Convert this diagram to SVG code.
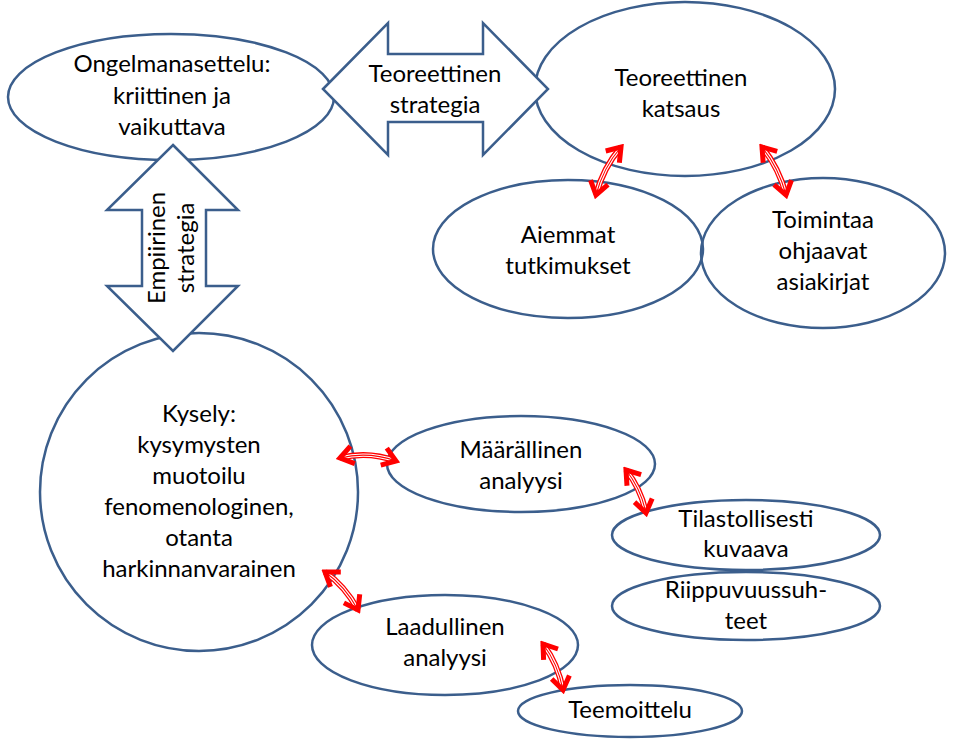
<svg xmlns="http://www.w3.org/2000/svg" width="957" height="742" viewBox="0 0 957 742">
  <defs>
    <style>
      .node { fill: none; stroke: #3b5e8c; stroke-width: 2.5; }
      .block { fill: #ffffff; stroke: #3b5e8c; stroke-width: 2.5; stroke-linejoin: miter; }
      text { font-family: Lato, "Open Sans", "Liberation Sans", sans-serif; font-size: 24px; fill: #000; text-anchor: middle; }
      .l1 { fill: none; stroke: #ff0000; stroke-width: 6; }
      .l2 { fill: none; stroke: #ffffff; stroke-width: 3.4; }
      .l3 { fill: none; stroke: #ff0000; stroke-width: 1.1; marker-start: url(#head); marker-end: url(#head); }
    </style>
    <marker id="head" markerUnits="userSpaceOnUse" viewBox="-18 -12 22 24" refX="0" refY="0" markerWidth="22" markerHeight="24" orient="auto-start-reverse">
      <path d="M -13 -9 L 0 0 L -13 9" fill="none" stroke="#ff0000" stroke-width="5" stroke-linejoin="miter"/>
    </marker>
  </defs>

  <!-- ellipses -->
  <g id="ongelma">
    <ellipse class="node" cx="171" cy="97" rx="163" ry="63"/>
    <text x="172" y="72">Ongelmanasettelu:</text>
    <text x="172" y="104">kriittinen ja</text>
    <text x="172" y="135">vaikuttava</text>
  </g>
  <g id="katsaus">
    <ellipse class="node" cx="685" cy="89" rx="150" ry="87"/>
    <text x="681" y="86">Teoreettinen</text>
    <text x="681" y="117">katsaus</text>
  </g>
  <g id="aiemmat">
    <ellipse class="node" cx="568" cy="249" rx="135" ry="69"/>
    <text x="568" y="243">Aiemmat</text>
    <text x="568" y="274">tutkimukset</text>
  </g>
  <g id="asiakirjat">
    <ellipse class="node" cx="823" cy="253" rx="122" ry="75"/>
    <text x="823" y="228">Toimintaa</text>
    <text x="823" y="259">ohjaavat</text>
    <text x="823" y="290">asiakirjat</text>
  </g>
  <g id="kysely">
    <ellipse class="node" cx="199" cy="492" rx="159" ry="159"/>
    <text x="199" y="422">Kysely:</text>
    <text x="199" y="453">kysymysten</text>
    <text x="199" y="484">muotoilu</text>
    <text x="199" y="515">fenomenologinen,</text>
    <text x="199" y="546">otanta</text>
    <text x="199" y="577">harkinnanvarainen</text>
  </g>
  <g id="maarallinen">
    <ellipse class="node" cx="521" cy="464" rx="134" ry="48"/>
    <text x="521" y="458">Määrällinen</text>
    <text x="521" y="489">analyysi</text>
  </g>
  <g id="tilastollisesti">
    <ellipse class="node" cx="746" cy="535" rx="134" ry="35"/>
    <text x="746" y="527">Tilastollisesti</text>
    <text x="746" y="557">kuvaava</text>
  </g>
  <g id="riippuvuus">
    <ellipse class="node" cx="746" cy="606" rx="134" ry="34"/>
    <text x="746" y="598">Riippuvuussuh-</text>
    <text x="746" y="629">teet</text>
  </g>
  <g id="laadullinen">
    <ellipse class="node" cx="445" cy="645" rx="133" ry="50"/>
    <text x="445" y="635">Laadullinen</text>
    <text x="445" y="666">analyysi</text>
  </g>
  <g id="teemoittelu">
    <ellipse class="node" cx="630" cy="711" rx="112" ry="26"/>
    <text x="630" y="718">Teemoittelu</text>
  </g>

  <!-- block arrows -->
  <g id="teoreettinen-strategia">
    <polygon class="block" points="323,89 388,23 388,54 483,54 483,23 548,89 483,155 483,122 388,122 388,155"/>
    <text x="435" y="82">Teoreettinen</text>
    <text x="435" y="113">strategia</text>
  </g>
  <g id="empiirinen-strategia">
    <polygon class="block" points="173,145 238,210 206,210 206,286 238,286 173,351 107,286 142,286 142,210 107,210"/>
    <text transform="translate(165,248) rotate(-90)">Empiirinen</text>
    <text transform="translate(194,248) rotate(-90)">strategia</text>
  </g>

  <!-- connectors -->
  <g id="connectors">
    <g>
      <path class="l1" d="M 621 147 Q 603 168 596 195"/>
      <path class="l2" d="M 621 147 Q 603 168 596 195"/>
      <path class="l3" d="M 621 147 Q 603 168 596 195"/>
    </g>
    <g>
      <path class="l1" d="M 762 147 Q 779 168 786 195"/>
      <path class="l2" d="M 762 147 Q 779 168 786 195"/>
      <path class="l3" d="M 762 147 Q 779 168 786 195"/>
    </g>
    <g>
      <path class="l1" d="M 340 458 Q 368 451 396 461"/>
      <path class="l2" d="M 340 458 Q 368 451 396 461"/>
      <path class="l3" d="M 340 458 Q 368 451 396 461"/>
    </g>
    <g>
      <path class="l1" d="M 325 572 Q 345 586 358 610"/>
      <path class="l2" d="M 325 572 Q 345 586 358 610"/>
      <path class="l3" d="M 325 572 Q 345 586 358 610"/>
    </g>
    <g>
      <path class="l1" d="M 626 470 Q 641 489 646 513"/>
      <path class="l2" d="M 626 470 Q 641 489 646 513"/>
      <path class="l3" d="M 626 470 Q 641 489 646 513"/>
    </g>
    <g>
      <path class="l1" d="M 543 644 Q 558 664 563 690"/>
      <path class="l2" d="M 543 644 Q 558 664 563 690"/>
      <path class="l3" d="M 543 644 Q 558 664 563 690"/>
    </g>
  </g>
</svg>
